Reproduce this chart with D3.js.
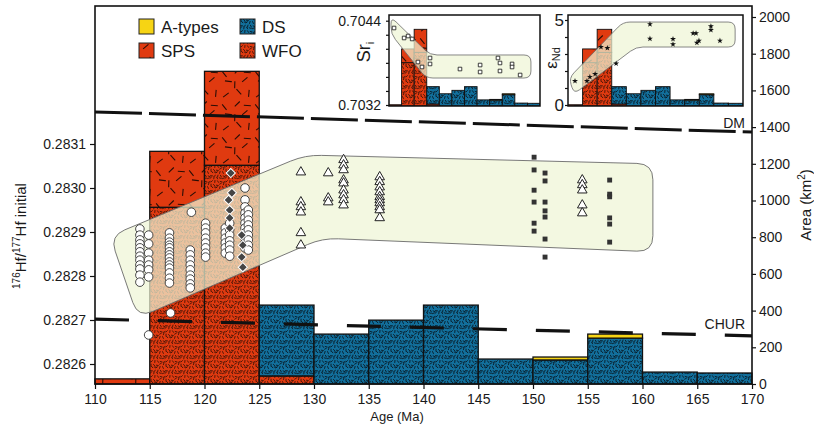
<!DOCTYPE html>
<html><head><meta charset="utf-8">
<script src="https://cdn.jsdelivr.net/npm/d3@7"></script>
<style>
body{margin:0;background:#fff}
svg{display:block}
text{font-family:"Liberation Sans",Arial,Helvetica,sans-serif;fill:#1a1a1a}
</style>
</head><body>
<svg id="c" width="814" height="427"></svg>
<script>
// ---------------- DATA ----------------
const binStarts = [110,115,120,125,130,135,140,145,150,155,160,165];
const binWidth = 5;
const areaWFO    = [0, 963, 1192, 44, 0, 0, 0, 0, 0, 0, 0, 0];
const areaSPS    = [28, 305, 512, 0, 0, 0, 0, 0, 0, 0, 0, 0];
const areaDS     = [0, 0, 0, 386, 272, 348, 430, 136, 131, 250, 65, 60];
const areaAtypes = [0, 0, 0, 0, 0, 0, 0, 0, 16, 22, 0, 0];

const ageTicks = [110,115,120,125,130,135,140,145,150,155,160,165,170];
const hfTicks = [0.2826,0.2827,0.2828,0.2829,0.2830,0.2831];
const areaTicks = [0,200,400,600,800,1000,1200,1400,1600,1800,2000];
const srTicks = [0.7032,0.7034,0.7036,0.7038,0.7040,0.7042,0.7044];
const ndTicks = [0,1,2,3,4,5];

// Hf zircon data: white circles (age, values)
const hfCircleCols = [
  [114.1,[0.282907,0.282893,0.282882,0.282873,0.282864,0.282855,0.282845,0.282836,0.282825,0.282816,0.282802,0.282786]],
  [114.9,[0.282893,0.282873,0.282852,0.282836,0.282825,0.282814,0.282798,0.282666]],
  [116.8,[0.282898,0.282886,0.282877,0.282870,0.282864,0.282855,0.282848,0.282841,0.282832,0.282825,0.282818,0.282807,0.282795,0.282784]],
  [116.9,[0.282716]],
  [118.7,[0.282859,0.282848,0.282836,0.282825,0.282814,0.282802,0.282793,0.282782,0.282773]],
  [118.8,[0.282945]],
  [120.1,[0.282920,0.282909,0.282898,0.282886,0.282875,0.282864,0.282852,0.282843]],
  [121.9,[0.282909,0.282898,0.282886,0.282875,0.282864,0.282852]],
  [122.3,[0.282920,0.282905,0.282893,0.282880,0.282870,0.282859,0.282845]],
  [123.7,[0.283000,0.282973,0.282957,0.282943,0.282932,0.282920,0.282909,0.282898,0.282886,0.282875,0.282864]],
  [124.0,[0.282950,0.282939,0.282927,0.282916,0.282905,0.282893,0.282882,0.282870,0.282859]]
];
const hfDiamonds = [[122.4,0.283034],[122.5,0.282989],[122.2,0.282973],[122.3,0.282950],[122.3,0.282932],[122.3,0.282909],[123.4,0.282893],[123.5,0.282870],[123.4,0.282843],[123.5,0.282820]];
const hfTriangleCols = [
  [128.8,[0.283036,0.282968,0.282957,0.282945,0.282898,0.282870]],
  [131.3,[0.283034,0.282977,0.282968]],
  [132.7,[0.283064,0.283052,0.283041,0.283018,0.283011,0.282995,0.282984,0.282973,0.282961]],
  [136.0,[0.283025,0.283014,0.283002,0.282991,0.282980,0.282973,0.282966,0.282957,0.282950,0.282932]],
  [154.5,[0.283018,0.283007,0.282995,0.282961,0.282943]]
];
const hfSquareCols = [
  [150.1,[0.283070,0.283041,0.282995,0.282968,0.282920,0.282902]],
  [151.1,[0.283034,0.283016,0.282968,0.282948,0.282934,0.282884,0.282843]],
  [157.0,[0.283018,0.282986,0.282980,0.282932,0.282918,0.282877]]
];
// reference lines (age, Hf)
const dmLine = [[110,0.283173],[170,0.283127]];
const churLine = [[110,0.282702],[170,0.282664]];
// envelope (age, Hf)
const hfEnvelope = [[111.37,0.282891],[129.21,0.283075],[160.95,0.283055],[160.95,0.282855],[130.76,0.282886],[113.93,0.282705]];

// Sr inset
const srPoints = [[112.0,0.704296],[116.0,0.704154],[117.6,0.704182],[119.2,0.704140],[121.5,0.703812],[123.1,0.703741],[126.3,0.703869],[126.3,0.703784],[138.2,0.703712],[146.2,0.703769],[146.2,0.703670],[153.3,0.703869],[154.1,0.703798],[154.1,0.703684],[158.9,0.703784],[158.9,0.703741],[162.1,0.703627]];
const srEnvelope = [[110.8,0.704453],[126.3,0.703912],[166.4,0.703912],[166.4,0.703584],[124.7,0.703584],[110.8,0.704211]];

// Nd inset
const ndPoints = [[112.4,1.41],[116.5,1.41],[117.5,1.65],[119.3,1.82],[121.3,3.41],[123.5,3.35],[126.5,2.44],[138.1,4.75],[138.1,3.90],[146.0,3.88],[146.0,3.57],[152.9,4.22],[153.9,4.22],[154.2,3.66],[154.9,3.78],[159.0,4.63],[159.0,4.41],[162.1,3.78]];
const ndEnvelope = [[110.34,1.59],[128.86,4.88],[167.3,4.88],[167.3,3.41],[133.3,3.41],[112.06,0.65]];

const legendItems = [["A-types","atypes"],["DS","ds"],["SPS","sps"],["WFO","wfo"]];

// ---------------- STYLE ----------------
const RED = "#e03a10", BLUE = "#12709d", YELLOW = "#f6d414";
const svg = d3.select("#c");
const defs = svg.append("defs");

function addPattern(id, bg, size, grid, len, sw, col){
  const pat = defs.append("pattern").attr("id", id).attr("patternUnits","userSpaceOnUse")
    .attr("width", size).attr("height", size);
  pat.append("rect").attr("width", size).attr("height", size).attr("fill", bg);
  const cell = size/grid;
  let k = 0;
  for (let i=0;i<grid;i++) for (let j=0;j<grid;j++){
    k++;
    const jx = (((k*0.618034)%1) - 0.5)*cell*0.6;
    const jy = (((k*0.414214)%1) - 0.5)*cell*0.6;
    const ang = ((k*0.7548776)%1)*Math.PI;
    const cx = (i+0.5)*cell + jx, cy = (j+0.5)*cell + jy;
    const dx = Math.cos(ang)*len/2, dy = Math.sin(ang)*len/2;
    for (const ox of [-size,0,size]) for (const oy of [-size,0,size]) {
      pat.append("line").attr("x1", cx-dx+ox).attr("y1", cy-dy+oy).attr("x2", cx+dx+ox).attr("y2", cy+dy+oy)
        .attr("stroke", col).attr("stroke-width", sw);
    }
  }
}
addPattern("pWFO", RED, 15, 5, 2.8, 0.8, "#2a0c04");
addPattern("pSPS", RED, 33, 3, 7, 1.1, "#2a0c04");
addPattern("pDS", BLUE, 15, 5, 2.9, 0.85, "#06121a");
const fills = {wfo:"url(#pWFO)", sps:"url(#pSPS)", ds:"url(#pDS)", atypes:YELLOW};
const layers = [[areaWFO,"wfo"],[areaSPS,"sps"],[areaDS,"ds"],[areaAtypes,"atypes"]];

function roundedPath(pts, r){
  const p = d3.path(), n = pts.length;
  for (let i=0;i<n;i++){
    const c = pts[i], a = pts[(i-1+n)%n], b = pts[(i+1)%n];
    const la = Math.hypot(a[0]-c[0], a[1]-c[1]), lb = Math.hypot(b[0]-c[0], b[1]-c[1]);
    const ra = Math.min(r, la/2), rb = Math.min(r, lb/2);
    const s = [c[0]+(a[0]-c[0])*ra/la, c[1]+(a[1]-c[1])*ra/la];
    const e = [c[0]+(b[0]-c[0])*rb/lb, c[1]+(b[1]-c[1])*rb/lb];
    if (i===0) p.moveTo(s[0], s[1]); else p.lineTo(s[0], s[1]);
    p.quadraticCurveTo(c[0], c[1], e[0], e[1]);
  }
  p.closePath();
  return p.toString();
}

function drawBars(g, xs, ys, lw){
  binStarts.forEach((b,i) => {
    let base = 0;
    layers.forEach(([vals,key]) => {
      const v = vals[i];
      if (v > 0){
        g.append("rect").attr("x", xs(b)).attr("width", xs(b+binWidth)-xs(b))
          .attr("y", ys(base+v)).attr("height", ys(base)-ys(base+v))
          .attr("fill", fills[key]).attr("stroke", "#111").attr("stroke-width", lw);
        base += v;
      }
    });
  });
}

// ---------------- MAIN CHART ----------------
const L = 95, R = 752, T = 6, B = 384;
const x = d3.scaleLinear().domain([110,170]).range([L,R]);
const yHf = d3.scaleLinear().domain([0.2826,0.2831]).range([364,144]);
const yArea = d3.scaleLinear().domain([0,2000]).range([B,17]);

const main = svg.append("g");
drawBars(main.append("g"), x, yArea, 1.3);

main.append("path").attr("d", roundedPath(hfEnvelope.map(d => [x(d[0]), yHf(d[1])]), 16))
  .attr("fill", "#eef5d6").attr("fill-opacity", 0.72).attr("stroke", "#6a6a6a").attr("stroke-width", 0.9);

const refLine = d3.line().x(d => x(d[0])).y(d => yHf(d[1]));
main.append("path").attr("d", refLine(dmLine)).attr("fill","none").attr("stroke","#111")
  .attr("stroke-width", 3).attr("stroke-dasharray","47,7");
main.append("path").attr("d", refLine(churLine)).attr("fill","none").attr("stroke","#111")
  .attr("stroke-width", 3.2).attr("stroke-dasharray","34,29");

main.append("text").attr("x", 745).attr("y", 128).attr("text-anchor","end").attr("font-size",14).text("DM");
main.append("text").attr("x", 745).attr("y", 329).attr("text-anchor","end").attr("font-size",14).text("CHUR");

// points
const flat = cols => cols.flatMap(([a, vs]) => vs.map(v => [a, v]));
const pts = main.append("g");
pts.selectAll("circle.h").data(flat(hfCircleCols)).join("circle")
  .attr("cx", d => x(d[0])).attr("cy", d => yHf(d[1])).attr("r", 4.3)
  .attr("fill","#fff").attr("stroke","#333").attr("stroke-width",0.9);
pts.selectAll("path.dia").data(hfDiamonds).join("path").attr("class","dia")
  .attr("d", d3.symbol(d3.symbolSquare, 42)())
  .attr("transform", d => `translate(${x(d[0])},${yHf(d[1])}) rotate(45)`)
  .attr("fill","#454545").attr("stroke","#fff").attr("stroke-width",1);
pts.selectAll("path.tri").data(flat(hfTriangleCols)).join("path").attr("class","tri")
  .attr("d", d3.symbol(d3.symbolTriangle, 40)())
  .attr("transform", d => `translate(${x(d[0])},${yHf(d[1])})`)
  .attr("fill","#fff").attr("stroke","#222").attr("stroke-width",1);
pts.selectAll("path.sq").data(flat(hfSquareCols)).join("path").attr("class","sq")
  .attr("d", d3.symbol(d3.symbolSquare, 24)())
  .attr("transform", d => `translate(${x(d[0])},${yHf(d[1])})`)
  .attr("fill","#333");

// frame
main.append("rect").attr("x", L).attr("y", T).attr("width", R-L).attr("height", B-T)
  .attr("fill","none").attr("stroke","#111").attr("stroke-width",1.6);

// axes
const fmt4 = d3.format(".4f");
const ax = (g) => { g.select(".domain").remove(); g.selectAll("line").attr("stroke","#111").attr("stroke-width",1.2);
  g.selectAll("text").attr("font-size",14).attr("fill","#1a1a1a").attr("font-family",'"Liberation Sans",Arial,sans-serif'); };
svg.append("g").attr("transform",`translate(${L},0)`)
  .call(d3.axisLeft(yHf).tickValues(hfTicks).tickFormat(fmt4).tickSize(5).tickPadding(4)).call(ax);
svg.append("g").attr("transform",`translate(${R},0)`)
  .call(d3.axisRight(yArea).tickValues(areaTicks).tickFormat(d3.format("d")).tickSize(4).tickPadding(3)).call(ax);
svg.append("g").attr("transform",`translate(0,${B})`)
  .call(d3.axisBottom(x).tickValues(ageTicks).tickFormat(d3.format("d")).tickSize(5).tickPadding(5)).call(ax);

svg.append("text").attr("x", 397).attr("y", 421).attr("text-anchor","middle").attr("font-size",13).text("Age (Ma)");

const yt = svg.append("text").attr("transform","translate(26,236) rotate(-90)").attr("text-anchor","middle").attr("font-size",15);
yt.append("tspan").attr("font-size",10).attr("dy",-6).text("176");
yt.append("tspan").attr("dy",6).text("Hf/");
yt.append("tspan").attr("font-size",10).attr("dy",-6).text("177");
yt.append("tspan").attr("dy",6).text("Hf initial");

const rt = svg.append("text").attr("transform","translate(811,205) rotate(-90)").attr("text-anchor","middle").attr("font-size",15);
rt.append("tspan").text("Area (km");
rt.append("tspan").attr("font-size",10).attr("dy",-6).text("2");
rt.append("tspan").attr("dy",6).text(")");

// legend
const lg = svg.append("g");
legendItems.forEach(([name,key], i) => {
  const col = i % 2, row = Math.floor(i/2);
  const lx = 139 + col*101, ly = 19 + row*24;
  lg.append("rect").attr("x", lx).attr("y", ly).attr("width", 15).attr("height", 15)
    .attr("fill", fills[key]).attr("stroke","#222").attr("stroke-width",1);
  lg.append("text").attr("x", lx + 22).attr("y", ly + 14).attr("font-size",17).text(name);
});

// ---------------- INSETS ----------------
function inset(cfg){
  const g = svg.append("g");
  const xs = d3.scaleLinear().domain([110,170]).range([cfg.x0, cfg.x1]);
  const ya = d3.scaleLinear().domain([0,2000]).range([cfg.y1, cfg.y0+1]);
  const yv = d3.scaleLinear().domain(cfg.vdom).range(cfg.vrange);
  const cid = "clip" + cfg.id;
  defs.append("clipPath").attr("id", cid).append("rect")
    .attr("x", cfg.x0).attr("y", cfg.y0).attr("width", cfg.x1-cfg.x0).attr("height", cfg.y1-cfg.y0);
  g.append("rect").attr("x", cfg.x0).attr("y", cfg.y0).attr("width", cfg.x1-cfg.x0).attr("height", cfg.y1-cfg.y0).attr("fill","#fff");
  const inner = g.append("g").attr("clip-path", `url(#${cid})`);
  drawBars(inner, xs, ya, 0.9);
  inner.append("path").attr("d", roundedPath(cfg.env.map(d => [xs(d[0]), yv(d[1])]), 7))
    .attr("fill", "#eef5d6").attr("fill-opacity", 0.72).attr("stroke", "#6a6a6a").attr("stroke-width", 0.8);
  cfg.drawPts(inner, xs, yv);
  g.append("rect").attr("x", cfg.x0).attr("y", cfg.y0).attr("width", cfg.x1-cfg.x0).attr("height", cfg.y1-cfg.y0)
    .attr("fill","none").attr("stroke","#111").attr("stroke-width",1.5);
  g.append("g").attr("transform",`translate(${cfg.x0},0)`)
    .call(d3.axisLeft(yv).tickValues(cfg.ticks).tickFormat(cfg.fmt).tickSize(cfg.tick).tickPadding(cfg.pad))
    .call(ax).call(s => s.selectAll("text").attr("font-size", cfg.fs));
  return g;
}

inset({id:"sr", x0:389, x1:540, y0:15, y1:106, vdom:[0.7032,0.7044], vrange:[105,20.7], env:srEnvelope,
  ticks:srTicks, tick:3, pad:5, fs:14, fmt: d => (d===0.7032||d===0.7044) ? fmt4(d) : "",
  drawPts:(g, xs, yv) => g.selectAll("path.sr").data(srPoints).join("path")
    .attr("d", d3.symbol(d3.symbolSquare, 13)())
    .attr("transform", d => `translate(${xs(d[0])},${yv(d[1])})`)
    .attr("fill","#fff").attr("stroke","#111").attr("stroke-width",0.8)});

inset({id:"nd", x0:568, x1:743, y0:15, y1:106, vdom:[0,5], vrange:[105,20], env:ndEnvelope,
  ticks:ndTicks, tick:3, pad:1, fs:17, fmt: d => (d===0||d===5) ? String(d) : "",
  drawPts:(g, xs, yv) => g.selectAll("path.nd").data(ndPoints).join("path")
    .attr("d", d3.symbol(d3.symbolStar, 11)())
    .attr("transform", d => `translate(${xs(d[0])},${yv(d[1])})`)
    .attr("fill","#111")});

const srl = svg.append("text").attr("transform","translate(370,52) rotate(-90)").attr("text-anchor","middle").attr("font-size",18);
srl.append("tspan").text("Sr");
srl.append("tspan").attr("font-size",11).attr("dy",4).text("i");

const ndl = svg.append("text").attr("transform","translate(557,58) rotate(-90)").attr("text-anchor","middle").attr("font-size",17);
ndl.append("tspan").text("ε");
ndl.append("tspan").attr("font-size",11).attr("dy",3).text("Nd");
</script>
</body></html>
